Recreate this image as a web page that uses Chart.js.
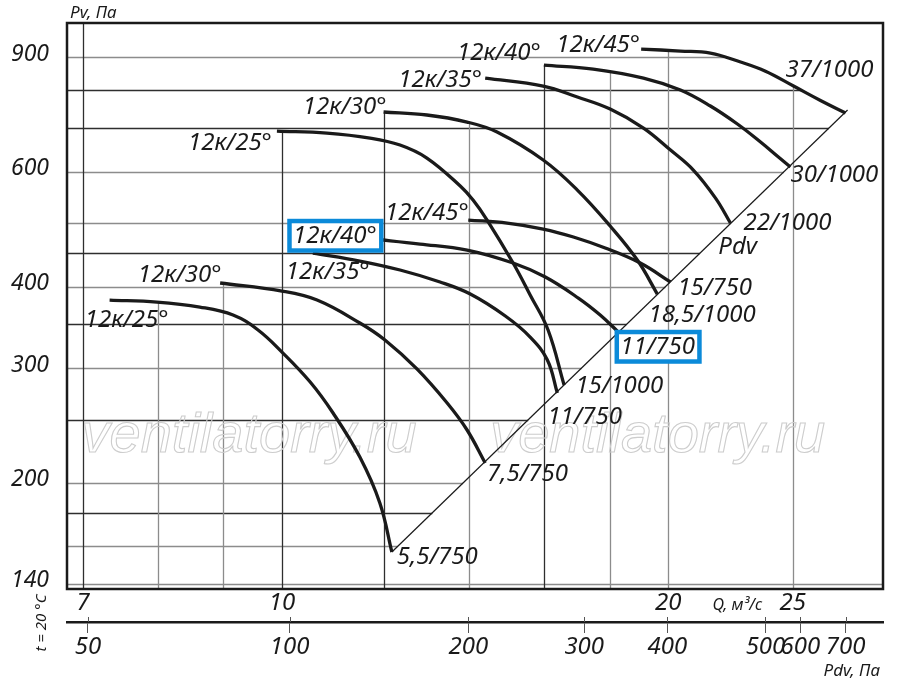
<!DOCTYPE html>
<html><head><meta charset="utf-8">
<script src="https://cdn.jsdelivr.net/npm/chart.js@4.4.1/dist/chart.umd.min.js"></script>
<style>html,body{margin:0;padding:0;background:#fff;}#wrap{width:900px;height:693px;position:relative;}</style>
</head><body><div id="wrap"><canvas id="c"></canvas></div>
<script>
// ---------- axes ----------
const qTicks      = [7, 8, 9, 10, 12, 14, 16, 18, 20, 25];
const qTickLabels = ['7', '', '', '10', '', '', '', '', '20', '25'];
const pvTicks      = [140, 160, 180, 200, 250, 300, 350, 400, 450, 500, 600, 700, 800, 900];
const pvTickLabels = ['140', '', '', '200', '', '300', '', '400', '', '', '600', '', '', '900'];
const pdvTickLabels = ['50', '100', '200', '300', '400', '500', '600', '700'];
const pdvTickAtQ    = [7.06, 10.14, 13.97, 17.20, 19.97, 23.81, 25.35, 27.49]; // Q under each Pdv label
const qRange  = [6.8, 29.4];
const pvRange = [137.5, 1015];

// ---------- fan curves (Q, m³/s ; Pv, Pa) ----------
const qA25  = [7.34, 7.99, 8.63, 9.16, 9.58, 10.00, 10.52, 10.96, 11.50, 11.92, 12.18];
const pvA25 = [381.5, 378.8, 372.2, 361.9, 343.2, 317.5, 285.6, 256.0, 219.1, 186.3, 156.7];
const qA30  = [8.95, 10.00, 10.65, 11.50, 12.03, 12.74, 13.45, 13.94, 14.40];
const pvA30 = [405.2, 393.8, 381.5, 351.8, 331.3, 299.1, 265.2, 241.1, 214.6];
const qA35  = [10.57, 11.50, 12.36, 13.28, 14.02, 14.93, 15.61, 16.10, 16.39];
const pvA35 = [450.4, 437.9, 424.2, 406.6, 389.7, 360.6, 334.8, 308.7, 274.7];
const qA40  = [11.78, 12.81, 13.94, 15.14, 16.04, 17.02, 17.70, 18.25];
const pvA40 = [473.3, 465.0, 455.2, 434.8, 413.8, 384.2, 361.9, 342.0];
const qA45  = [13.97, 14.98, 15.98, 16.87, 17.86, 19.02, 20.08];
const pvA45 = [506.1, 500.8, 490.3, 476.7, 458.5, 434.8, 406.6];

const qB25  = [9.91, 10.84, 11.71, 12.36, 12.97, 13.77, 14.09, 14.45, 15.14, 15.61, 16.12, 16.59];
const pvB25 = [693.0, 688.1, 676.1, 659.6, 630.0, 570.7, 543.2, 506.1, 434.8, 388.4, 343.2, 282.6];
const qB30  = [12.00, 12.97, 13.94, 14.71, 15.98, 16.99, 18.02, 18.92, 19.61];
const pvB30 = [741.2, 733.4, 715.4, 690.6, 625.6, 562.6, 495.5, 439.4, 389.7];
const qB35  = [14.40, 15.98, 16.99, 18.02, 19.13, 20.08, 20.92, 21.77, 22.36];
const pvB35 = [835.6, 812.4, 781.5, 749.0, 700.4, 648.0, 603.9, 546.9, 500.8];
const qB40  = [16.00, 17.48, 19.13, 20.44, 21.57, 22.64, 23.60, 24.37, 24.90];
const pvB40 = [874.9, 862.7, 835.6, 801.0, 757.0, 710.4, 666.6, 632.2, 610.3];
const qB45  = [19.05, 20.44, 21.57, 22.77, 23.81, 25.04, 26.28, 27.49];
const pvB45 = [925.8, 919.3, 912.8, 884.3, 856.0, 812.4, 772.0, 738.6];

// Pdv line (end points of curves lie on it)
const qPdv  = [12.18, 27.59];
const pvPdv = [156.7, 746.4];

// ---------- texts ----------
const curveLabelText = ['12к/25°','12к/30°','12к/35°','12к/40°','12к/45°',
                        '12к/25°','12к/30°','12к/35°','12к/40°','12к/45°',
                        '5,5/750','7,5/750','11/750','15/1000','11/750','18,5/1000','15/750','Pdv','22/1000','30/1000','37/1000'];
const curveLabelQ  = [7.02, 7.72, 10.07, 10.20, 12.03, 8.45, 10.38, 12.32, 13.69, 16.36,
                      12.29, 14.45, 16.10, 16.93, 18.35, 19.30, 20.33, 21.88, 22.89, 24.90, 24.68];
const curveLabelPv = [355.5, 416.8, 421.2, 478.3, 518.8, 664.3, 754.3, 829.8, 912.8, 939.0,
                      153.9, 206.4, 252.4, 281.6, 323.2, 361.9, 398.1, 460.1, 500.8, 593.3, 859.6];
const boxedLabels = [3, 14];
const watermarkText = 'ventilatorry.ru';
const watermarkQ = [6.98, 14.53];
const watermarkPv = 223.0;

// ---------- build ----------
const zip = (qs, ps) => qs.map((q, i) => ({x: q, y: ps[i]}));
const curves = [
  zip(qA25, pvA25), zip(qA30, pvA30), zip(qA35, pvA35), zip(qA40, pvA40), zip(qA45, pvA45),
  zip(qB25, pvB25), zip(qB30, pvB30), zip(qB35, pvB35), zip(qB40, pvB40), zip(qB45, pvB45)
];
const pdvLine = zip(qPdv, pvPdv);
const polylines = curves.concat([pdvLine]);

const FONT = '"Noto Sans", "DejaVu Sans", sans-serif';
const INK = '#1a1a1a';
const GRID_DARK = '#2e2e2e', GRID_GRAY = '#8c8c8c';
const darkQ = [7, 10, 12, 16];
const darkPv = [800, 700, 450, 350, 250, 180];
const BLUE = '#0b8ad9';

function interpLog(a1, a2, b1, b2, v) {
  const t = (Math.log(v) - Math.log(b1)) / (Math.log(b2) - Math.log(b1));
  return Math.exp(Math.log(a1) + t * (Math.log(a2) - Math.log(a1)));
}
function envelopeQ(pv) {
  let best = null;
  for (const c of polylines) for (let i = 0; i < c.length - 1; i++) {
    const p = c[i], n = c[i + 1];
    if (p.y === n.y) continue;
    if (pv >= Math.min(p.y, n.y) && pv <= Math.max(p.y, n.y)) {
      const q = interpLog(p.x, n.x, p.y, n.y, pv);
      if (best === null || q > best) best = q;
    }
  }
  return best;
}
function envelopePv(q) {
  let best = null;
  for (const c of polylines) for (let i = 0; i < c.length - 1; i++) {
    const p = c[i], n = c[i + 1];
    if (q >= Math.min(p.x, n.x) && q <= Math.max(p.x, n.x)) {
      const v = interpLog(p.y, n.y, p.x, n.x, q);
      if (best === null || v > best) best = v;
    }
  }
  return best;
}

const decor = {
  id: 'decor',
  beforeDatasetsDraw(chart) {
    const {ctx, chartArea: ca} = chart;
    const xs = chart.scales.x, ys = chart.scales.y;
    ctx.save();
    ctx.lineWidth = 1.3;
    for (const v of pvTicks) {
      const y = Math.round(ys.getPixelForValue(v)) + 0.5;
      const qe = envelopeQ(v);
      const xe = qe === null ? ca.right : xs.getPixelForValue(qe);
      ctx.strokeStyle = darkPv.includes(v) ? GRID_DARK : GRID_GRAY;
      ctx.beginPath(); ctx.moveTo(ca.left, y); ctx.lineTo(xe, y); ctx.stroke();
    }
    for (const q of qTicks) {
      const x = Math.round(xs.getPixelForValue(q)) + 0.5;
      const pe = envelopePv(q);
      const ye = pe === null ? ca.top : ys.getPixelForValue(pe);
      ctx.strokeStyle = darkQ.includes(q) ? GRID_DARK : GRID_GRAY;
      ctx.beginPath(); ctx.moveTo(x, ye); ctx.lineTo(x, ca.bottom); ctx.stroke();
    }
    // watermark
    ctx.font = 'italic 56px "Liberation Sans", Arial, sans-serif';
    ctx.textAlign = 'left'; ctx.textBaseline = 'alphabetic';
    ctx.strokeStyle = '#cdcdcd'; ctx.lineWidth = 1.1;
    for (const q of watermarkQ) ctx.strokeText(watermarkText, xs.getPixelForValue(q), ys.getPixelForValue(watermarkPv));
    ctx.restore();
  },
  afterDatasetsDraw(chart) {
    const {ctx, chartArea: ca} = chart;
    const xs = chart.scales.x, ys = chart.scales.y, x2 = chart.scales.x2;
    ctx.save();
    // frame
    ctx.strokeStyle = INK; ctx.lineWidth = 2.5;
    ctx.strokeRect(ca.left, ca.top, ca.right - ca.left, ca.bottom - ca.top);
    // Pdv tick stubs above the axis line
    ctx.strokeStyle = '#555'; ctx.lineWidth = 1;
    for (const q of pdvTickAtQ) {
      const x = Math.round(x2.getPixelForValue(q)) + 0.5;
      ctx.beginPath(); ctx.moveTo(x, x2.top - 5); ctx.lineTo(x, x2.top); ctx.stroke();
    }
    // curve labels
    ctx.font = 'italic 24px ' + FONT;
    ctx.textAlign = 'left'; ctx.textBaseline = 'middle';
    curveLabelText.forEach((t, i) => {
      const x = xs.getPixelForValue(curveLabelQ[i]);
      const y = ys.getPixelForValue(curveLabelPv[i]);
      if (boxedLabels.includes(i)) {
        const w = ctx.measureText(t).width;
        ctx.fillStyle = '#fff';
        ctx.fillRect(x - 3, y - 14.5, w + 6.5, 28.5);
        ctx.strokeStyle = BLUE; ctx.lineWidth = 4.5;
        ctx.strokeRect(x - 3.5, y - 15, w + 8, 29.5);
      }
      ctx.fillStyle = INK;
      ctx.fillText(t, x, y);
    });
    // axis titles
    ctx.fillStyle = INK;
    ctx.font = 'italic 17px ' + FONT;
    ctx.textBaseline = 'middle'; ctx.textAlign = 'left';
    ctx.fillText('Pv, Па', ca.left + 3, ca.top - 10);
    ctx.font = 'italic 16px ' + FONT;
    ctx.fillText('Q, м³/с', xs.getPixelForValue(21.65), ca.bottom + 16);
    ctx.font = 'italic 17px ' + FONT;
    ctx.textAlign = 'right';
    ctx.fillText('Pdv, Па', ca.right - 3, ca.bottom + 82);
    ctx.translate(ca.left - 25, ca.bottom + 34);
    ctx.rotate(-Math.PI / 2);
    ctx.textAlign = 'center';
    ctx.font = 'italic 15px ' + FONT;
    ctx.fillText('t = 20 °C', 0, 0);
    ctx.restore();
  }
};

const curveDs = curves.map(d => ({
  data: d, borderColor: INK, borderWidth: 3.3, pointRadius: 0,
  tension: 0.4, fill: false
}));
curveDs.push({data: pdvLine, borderColor: INK, borderWidth: 1.2, pointRadius: 0, tension: 0, fill: false});

const tickFont = {family: FONT, size: 24, style: 'italic'};
const noPad = s => { s.paddingTop = 0; s.paddingBottom = 0; s.paddingLeft = 0; s.paddingRight = 0; };

new Chart(document.getElementById('c'), {
  type: 'line',
  data: {datasets: curveDs},
  options: {
    responsive: true, maintainAspectRatio: false, animation: false,
    parsing: false,
    layout: {padding: {left: 0, top: 23, right: 17, bottom: 0}},
    plugins: {legend: {display: false}, tooltip: {enabled: false}},
    scales: {
      x: {
        type: 'logarithmic', position: 'bottom', min: qRange[0], max: qRange[1],
        afterBuildTicks: s => { s.ticks = qTicks.map(v => ({value: v})); },
        afterFit: s => { s.height = 33; noPad(s); },
        grid: {display: false, drawTicks: false},
        border: {display: false},
        ticks: {autoSkip: false, maxRotation: 0, minRotation: 0, padding: 0, color: INK, font: tickFont,
                callback: (v, i) => qTickLabels[i]}
      },
      x2: {
        type: 'logarithmic', position: 'bottom', min: qRange[0], max: qRange[1],
        afterBuildTicks: s => { s.ticks = pdvTickAtQ.map(v => ({value: v})); },
        afterFit: s => { s.height = 71; noPad(s); },
        grid: {display: true, drawOnChartArea: false, drawTicks: true, tickLength: 11, color: '#555', lineWidth: 1},
        border: {display: true, color: INK, width: 2.5},
        ticks: {autoSkip: false, maxRotation: 0, minRotation: 0, padding: 0, color: INK, font: tickFont,
                callback: (v, i) => pdvTickLabels[i]}
      },
      y: {
        type: 'logarithmic', position: 'left', min: pvRange[0], max: pvRange[1],
        afterBuildTicks: s => { s.ticks = pvTicks.map(v => ({value: v})); },
        afterFit: s => { s.width = 67; noPad(s); },
        grid: {display: false, drawTicks: false},
        border: {display: false},
        ticks: {autoSkip: false, padding: 18, labelOffset: -3, color: INK,
                font: {family: FONT, size: 23, style: 'italic'},
                callback: (v, i) => pvTickLabels[i]}
      }
    }
  },
  plugins: [decor]
});
</script></body></html>
